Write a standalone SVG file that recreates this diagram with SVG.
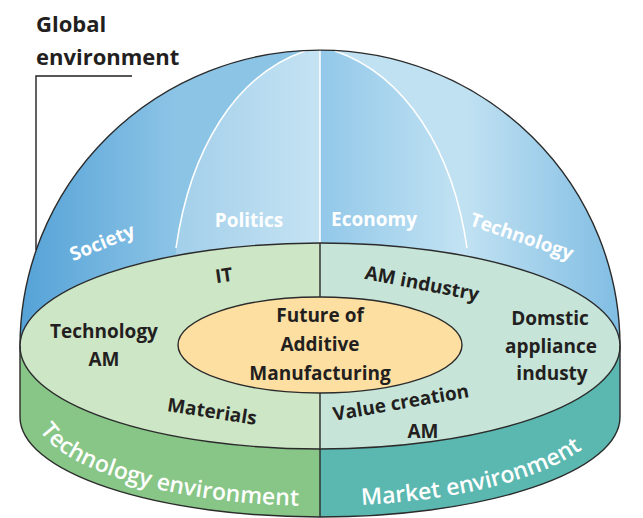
<svg xmlns="http://www.w3.org/2000/svg" width="643" height="518" viewBox="0 0 643 518">
<style>
.t{font-family:"Open Sans","Liberation Sans",sans-serif;font-weight:700;}
.dk{fill:#231f20;font-size:19px;}
.wt{fill:#ffffff;font-size:19px;}
.bd{fill:#ffffff;font-size:23px;font-weight:600;}
.ol{fill:none;stroke:#2b2b2b;stroke-width:1.4;}
.mer{fill:none;stroke:#ffffff;stroke-width:1.5;}
</style>
<defs>
<clipPath id="dome"><path d="M20,346 A300,296 0 0 1 620,346 Z"/></clipPath>
<linearGradient id="gSoc" gradientUnits="userSpaceOnUse" x1="20" y1="0" x2="176" y2="0"><stop offset="0" stop-color="#55a2d7"/><stop offset="1" stop-color="#8cc4e6"/></linearGradient>
<linearGradient id="gPol" gradientUnits="userSpaceOnUse" x1="176" y1="0" x2="320" y2="0"><stop offset="0" stop-color="#a3cfea"/><stop offset="1" stop-color="#c5e3f3"/></linearGradient>
<linearGradient id="gEco" gradientUnits="userSpaceOnUse" x1="320" y1="0" x2="467" y2="0"><stop offset="0" stop-color="#92c8e9"/><stop offset="1" stop-color="#c3e3f3"/></linearGradient>
<linearGradient id="gTec" gradientUnits="userSpaceOnUse" x1="467" y1="0" x2="620" y2="0"><stop offset="0" stop-color="#c0e1f2"/><stop offset="1" stop-color="#80bde3"/></linearGradient>
<path id="bandPath" d="M33,410 A287,96 0 0 0 607,410"/>
</defs>

<g id="global-environment">
<g clip-path="url(#dome)">
<path id="society-seg" d="M0,0 H700 V420 H0 Z" fill="url(#gSoc)"/>
<path id="politics-seg" d="M176,248 C190,150 235,75 305,51 L305,0 L320,0 L320,420 L176,420 Z" fill="url(#gPol)"/>
<path id="economy-seg" d="M320,0 L335,0 L335,51 C405,75 453,150 467,248 L467,420 L320,420 Z" fill="url(#gEco)"/>
<path id="technology-seg" d="M467,248 C453,150 405,75 335,51 L335,0 L700,0 L700,420 L467,420 Z" fill="url(#gTec)"/>
</g>
<path class="mer" d="M176,248 C190,150 235,75 305,51"/>
<path class="mer" d="M467,248 C453,150 405,75 335,51"/>
<path class="mer" d="M320,50 V244"/>
<path class="ol" d="M20,346 A300,296 0 0 1 620,346"/>
<text class="t wt" x="102" y="249" text-anchor="middle" transform="rotate(-22 102 242)">Society</text>
<text class="t wt" x="249" y="227" text-anchor="middle">Politics</text>
<text class="t wt" x="374" y="226" text-anchor="middle">Economy</text>
<text class="t wt" x="522" y="243" text-anchor="middle" transform="rotate(19 522 236)">Technology</text>
<text class="t" x="36" y="32" font-size="22" fill="#231f20">Global</text>
<text class="t" x="36" y="65" font-size="22" fill="#231f20">environment</text>
</g>

<g id="technology-environment">
<path d="M20,346 L20,417 A300,100 0 0 0 320,517 L320,449 A300,103 0 0 1 20,346 Z" fill="#88c688"/>
<path d="M320,243 A300,103 0 0 0 20,346 A300,103 0 0 0 320,449 Z" fill="#cde6c6"/>
<text class="t bd"><textPath href="#bandPath" startOffset="25%" text-anchor="middle">Technology environment</textPath></text>
<text class="t dk" x="224" y="282" text-anchor="middle" transform="rotate(-8 224 276)">IT</text>
<text class="t dk" x="104" y="338" text-anchor="middle">Technology</text>
<text class="t dk" x="104" y="366" text-anchor="middle">AM</text>
<text class="t dk" x="212" y="418" text-anchor="middle" transform="rotate(9 212 412)">Materials</text>
</g>

<g id="market-environment">
<path d="M620,346 L620,417 A300,100 0 0 1 320,517 L320,449 A300,103 0 0 0 620,346 Z" fill="#5bb8b0"/>
<path d="M320,243 A300,103 0 0 1 620,346 A300,103 0 0 1 320,449 Z" fill="#c6e5d8"/>
<text class="t bd"><textPath href="#bandPath" startOffset="74.5%" text-anchor="middle">Market environment</textPath></text>
<text class="t dk" x="422" y="290" text-anchor="middle" transform="rotate(11 422 284)">AM industry</text>
<text class="t dk" x="550" y="325" text-anchor="middle">Domstic</text>
<text class="t dk" x="551" y="353" text-anchor="middle">appliance</text>
<text class="t dk" x="552" y="380" text-anchor="middle">industy</text>
<text class="t dk" x="401" y="409" text-anchor="middle" transform="rotate(-10 401 403)">Value creation</text>
<text class="t dk" x="423" y="438" text-anchor="middle">AM</text>
</g>

<g id="outlines">
<ellipse class="ol" cx="320" cy="346" rx="300" ry="103"/>
<path class="ol" d="M20,346 L20,417 A300,100 0 0 0 620,417 L620,346"/>
<path class="ol" d="M320,243 V297 M320,393 V517"/>
</g>

<g id="future-am">
<ellipse cx="320" cy="345" rx="142" ry="48" fill="#fedfa2" stroke="#2b2b2b" stroke-width="1.4"/>
<text class="t dk" x="320" y="322" text-anchor="middle" font-size="20">Future of</text>
<text class="t dk" x="320" y="351" text-anchor="middle" font-size="20">Additive</text>
<text class="t dk" x="320" y="380" text-anchor="middle" font-size="20">Manufacturing</text>
</g>

<g id="connectors">
<path d="M132,76 H36 V250" fill="none" stroke="#231f20" stroke-width="1.4"/>
</g>
</svg>
